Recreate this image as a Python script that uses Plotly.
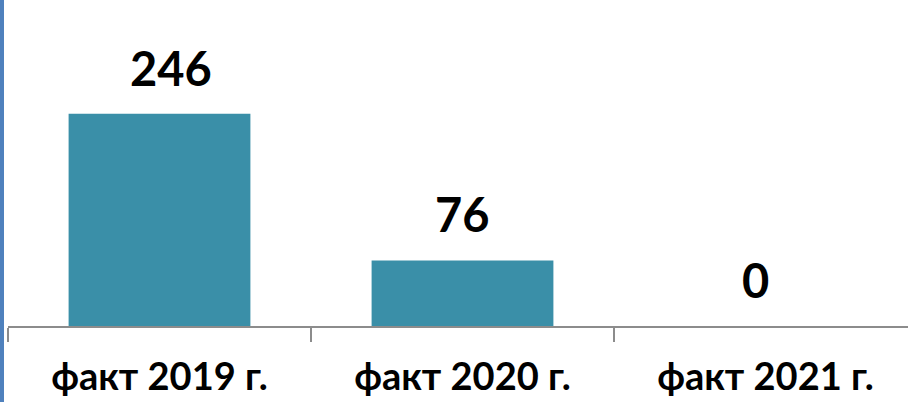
import plotly.graph_objects as go

categories = ["факт 2019 г.", "факт 2020 г.", "факт 2021 г."]
values = [246, 76, 0]
value_labels = ["246", "76", "0"]

label_dx = [11, 0, -10]

fig = go.Figure()
fig.add_trace(go.Bar(
    x=categories, y=values,
    marker=dict(color="#3A8FA8", line=dict(width=0)),
    width=0.6,
    hoverinfo="skip",
))

for c, v, t, dx in zip(categories, values, value_labels, label_dx):
    fig.add_annotation(x=c, y=v, text="<b>%s</b>" % t, showarrow=False,
                       xref="x", yref="y", yanchor="bottom", yshift=16, xshift=dx,
                       font=dict(family="Lato", size=47, color="#000000"))

fig.add_shape(type="rect", xref="paper", yref="paper",
              x0=-8/900, x1=-4/900, y0=-1, y1=2,
              fillcolor="#4F81BD", line=dict(width=0), layer="above")

fig.update_layout(
    width=908, height=402,
    margin=dict(l=8, r=0, t=0, b=76, autoexpand=False),
    paper_bgcolor="white", plot_bgcolor="white",
    showlegend=False,
    xaxis=dict(
        type="category",
        automargin=False,
        range=[-0.5, 2.5 - 9/303],
        showline=True, linecolor="#8C8C8C", linewidth=1.5,
        ticks="outside", tickson="boundaries", ticklen=14, tickcolor="#8C8C8C", tickwidth=1.5,
        tickfont=dict(family="Lato", size=38, color="#000000"),
        tickvals=categories,
        ticktext=["<b>%s</b>" % c for c in categories],
        showgrid=False,
        ticklabelstandoff=17,
    ),
    yaxis=dict(range=[0, 378], visible=False, showgrid=False, zeroline=False, automargin=False),
)

fig.write_html(
    "out.html",
    config={"displayModeBar": False, "staticPlot": True},
    post_script="document.body.style.margin='0';document.body.style.overflow='hidden';",
)
